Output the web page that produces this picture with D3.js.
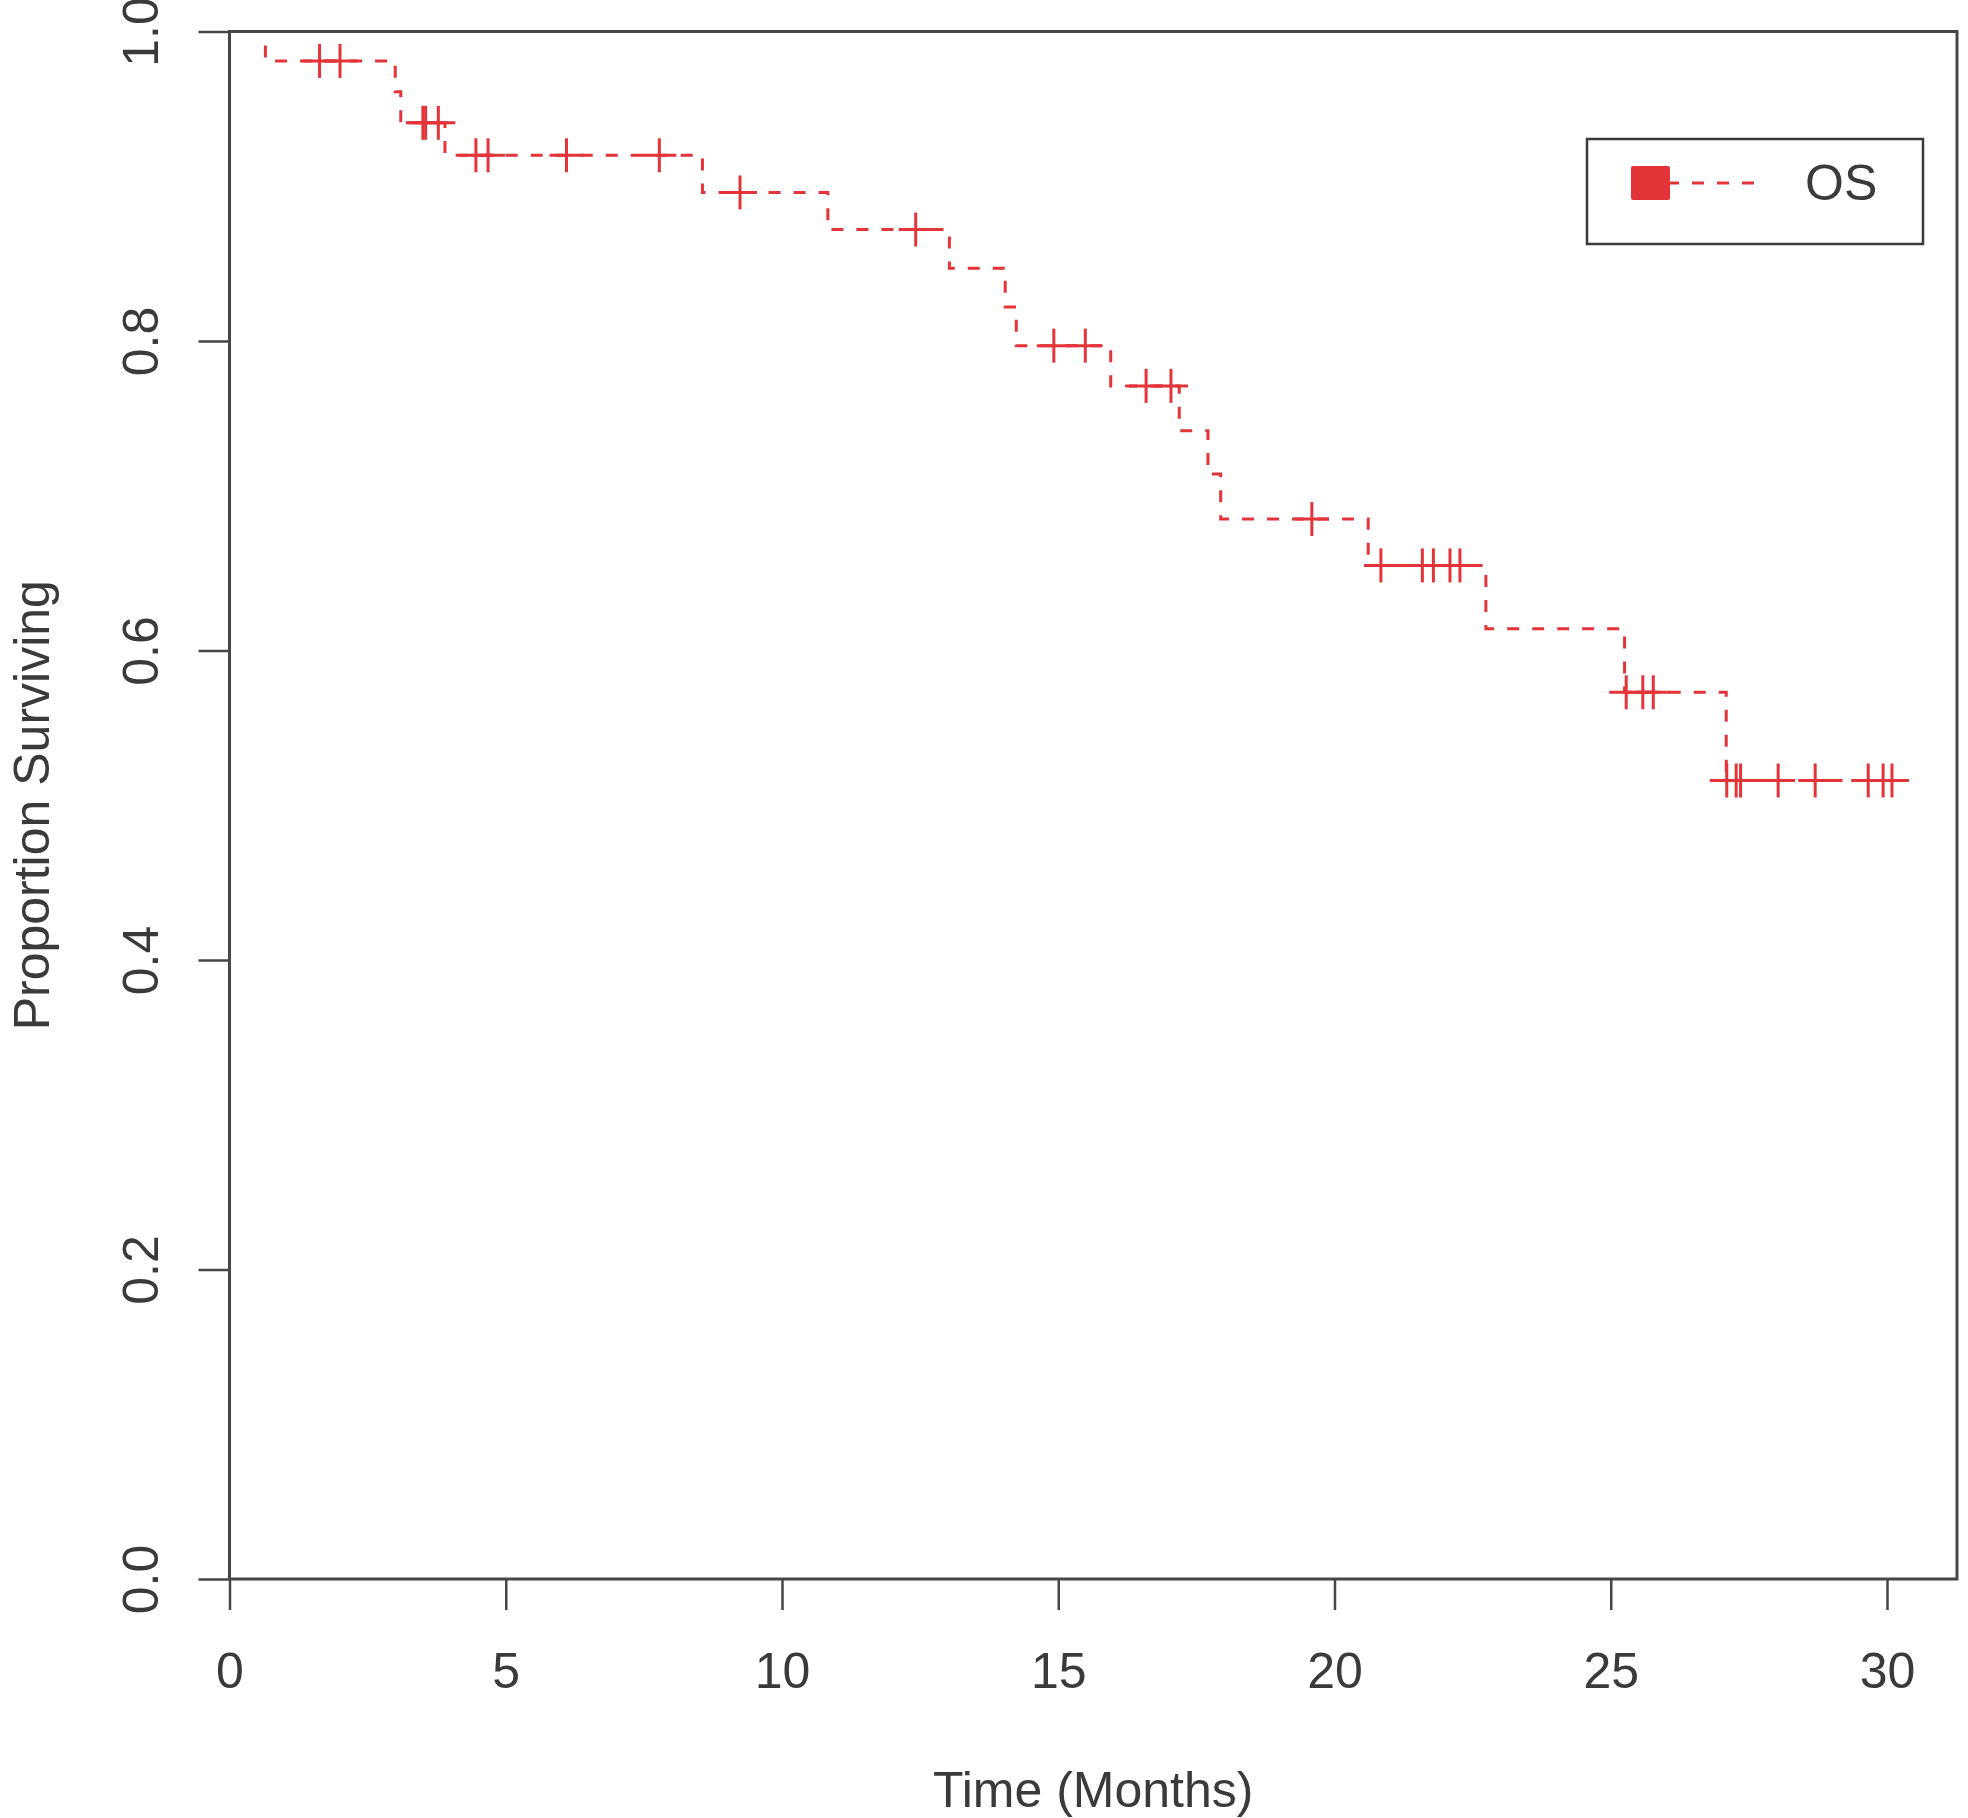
<!DOCTYPE html>
<html>
<head>
<meta charset="utf-8">
<script src="https://cdn.jsdelivr.net/npm/d3@7"></script>
<style>
  html, body { margin: 0; padding: 0; background: #fff; }
  svg text { font-family: "Liberation Sans", Arial, Helvetica, sans-serif; fill: #3a3a3a; }
</style>
</head>
<body>
<div id="chart"></div>
<script>
// Kaplan-Meier steps: time of each drop (months) and survival after it
const stepTimes = [0, 0.65, 3.0, 3.1, 3.9, 8.56, 10.83, 13.03, 14.04, 14.24, 15.95, 17.19, 17.71, 17.94, 20.61, 22.74, 25.25, 27.09];
const stepSurvival = [1.0, 0.981, 0.961, 0.941, 0.920, 0.896, 0.872, 0.847, 0.822, 0.797, 0.771, 0.742, 0.714, 0.685, 0.655, 0.614, 0.573, 0.516];
const lastTime = 30.09;

// censored observations (months)
const censorTimes = [1.63, 2.0, 3.5, 3.55, 3.78, 4.46, 4.68, 6.1, 7.78, 9.24, 12.42, 14.92, 15.49, 16.59, 17.04,
  19.59, 20.84, 21.59, 21.79, 22.09, 22.27, 25.28, 25.58, 25.77, 27.1, 27.27, 27.35, 28.03, 28.7, 29.66, 29.93, 30.09];

const xTicks = [0, 5, 10, 15, 20, 25, 30];
const yTicks = [0, 0.2, 0.4, 0.6, 0.8, 1.0];
const seriesName = "OS";
const xTitle = "Time (Months)";
const yTitle = "Proportion Surviving";

const width = 1968, height = 1818;
const red = "#e3343a", ink = "#464646";

const svg = d3.select("#chart").append("svg").attr("width", width).attr("height", height);

const x = d3.scaleLinear().domain([0, 30]).range([229.5, 1887]);
const y = d3.scaleLinear().domain([0, 1]).range([1579, 31.5]);
const boxRight = 1957;

// survival at time t (value in effect)
function survivalAt(t) {
  let s = stepSurvival[0];
  stepTimes.forEach((st, i) => { if (st <= t) s = stepSurvival[i]; });
  return s;
}

// survival curve
const pts = stepTimes.map((t, i) => [t, stepSurvival[i]]).concat([[lastTime, stepSurvival[stepSurvival.length - 1]]]);
const line = d3.line().x(d => x(d[0])).y(d => y(d[1])).curve(d3.curveStepAfter);
svg.append("path").datum(pts)
  .attr("d", line)
  .attr("fill", "none").attr("stroke", red).attr("stroke-width", 3)
  .attr("stroke-dasharray", "12,13");

// censor marks
const arm = 17;
const marks = svg.append("g").attr("stroke", red).attr("stroke-width", 3);
censorTimes.forEach(t => {
  const cx = x(t), cy = y(survivalAt(t));
  marks.append("line").attr("x1", cx - arm).attr("x2", cx + arm).attr("y1", cy).attr("y2", cy);
  marks.append("line").attr("x1", cx).attr("x2", cx).attr("y1", cy - arm).attr("y2", cy + arm);
});

// frame (drawn over the curve, as in the original)
svg.append("rect")
  .attr("x", x(0)).attr("y", y(1))
  .attr("width", boxRight - x(0)).attr("height", y(0) - y(1))
  .attr("fill", "none").attr("stroke", ink).attr("stroke-width", 3);

// axes
const xAxis = svg.append("g").attr("transform", `translate(0,${y(0)})`)
  .call(d3.axisBottom(x).tickValues(xTicks).tickSize(31).tickSizeOuter(0).tickPadding(0).tickFormat(d3.format("d")));
const yAxis = svg.append("g").attr("transform", `translate(${x(0)},0)`)
  .call(d3.axisLeft(y).tickValues(yTicks).tickSize(31).tickSizeOuter(0).tickFormat(d3.format(".1f")));

[xAxis, yAxis].forEach(a => {
  a.select(".domain").remove();
  a.selectAll(".tick line").attr("stroke", ink).attr("stroke-width", 2.5);
  a.selectAll(".tick text").attr("font-size", 50).attr("fill", "#3a3a3a");
});
xAxis.selectAll(".tick text").attr("y", 109).attr("dy", null);
yAxis.selectAll(".tick text")
  .attr("x", null).attr("dy", null)
  .attr("text-anchor", "middle")
  .attr("transform", "translate(-71.5,0) rotate(-90)");

// titles
svg.append("text").attr("x", (x(0) + boxRight) / 2).attr("y", 1807)
  .attr("text-anchor", "middle").attr("font-size", 50).text(xTitle);
svg.append("text").attr("transform", `translate(49,${(y(0) + y(1)) / 2}) rotate(-90)`)
  .attr("text-anchor", "middle").attr("font-size", 50).text(yTitle);

// legend
const lg = svg.append("g");
lg.append("rect").attr("x", 1587).attr("y", 139).attr("width", 336).attr("height", 105)
  .attr("fill", "#fff").attr("stroke", "#3a3a3a").attr("stroke-width", 2.5);
lg.append("line").attr("x1", 1754).attr("x2", 1655).attr("y1", 183).attr("y2", 183)
  .attr("stroke", red).attr("stroke-width", 3).attr("stroke-dasharray", "12,13");
lg.append("rect").attr("x", 1631).attr("y", 166).attr("width", 39).attr("height", 34).attr("rx", 2)
  .attr("fill", red);
lg.append("text").attr("x", 1805).attr("y", 200).attr("font-size", 50).text(seriesName);
</script>
</body>
</html>
